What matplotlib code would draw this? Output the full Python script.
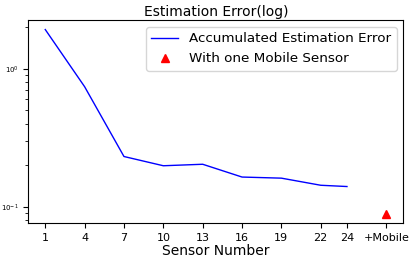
import matplotlib
matplotlib.use("Agg")
import matplotlib.pyplot as plt

# sensor counts and accumulated estimation error
sensors = [1, 4, 7, 10, 13, 16, 19, 22, 24]
error = [1.92, 0.74, 0.231, 0.198, 0.203, 0.164, 0.161, 0.143, 0.140]
mobile_x = [27]
mobile_err = [0.089]
tick_pos = [1, 4, 7, 10, 13, 16, 19, 22, 24, 27]
tick_labels = ['1', '4', '7', '10', '13', '16', '19', '22', '24', '+Mobile']

fig = plt.figure(figsize=(4.15, 2.61), dpi=100)
ax = fig.add_axes([0.068, 0.146, 0.904, 0.776])

ax.plot(sensors, error, color='blue', lw=1.0, label='Accumulated Estimation Error')
ax.plot(mobile_x, mobile_err, '^', color='red', markersize=6, label='With one Mobile Sensor')
ax.set_yscale('log')

ax.set_xticks(tick_pos)
ax.set_xticklabels(tick_labels, fontsize=8)
ax.tick_params(axis='y', labelsize=5)
ax.set_xlabel('Sensor Number', fontsize=10, labelpad=1)
ax.set_title('Estimation Error(log)', fontsize=10, pad=3)
ax.legend(fontsize=9.7, loc='upper right', handlelength=2.0)

fig.savefig('out.png', dpi=100)
